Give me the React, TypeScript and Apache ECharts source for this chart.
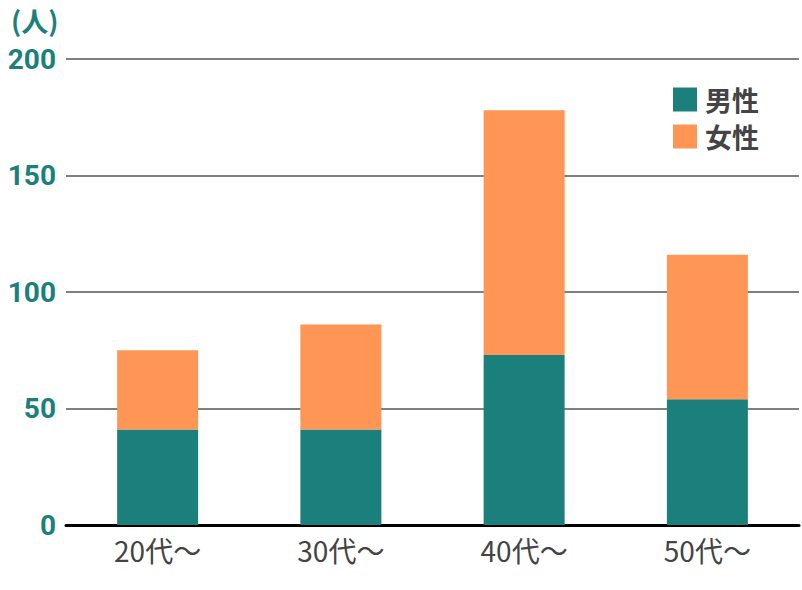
import React, { useEffect, useRef } from "react";
import * as echarts from "echarts";

const categories = ["20代～", "30代～", "40代～", "50代～"];
const maleValues = [41, 41, 73, 54];
const femaleValues = [34, 45, 105, 62];
const seriesNames = ["男性", "女性"];
const yTicks = [0, 50, 100, 150, 200];

export default function App() {
  const ref = useRef<HTMLDivElement>(null);
  useEffect(() => {
    if (!ref.current) return;
    const chart = echarts.init(ref.current, undefined, { renderer: "svg" });
    chart.setOption({
      animation: false,
      backgroundColor: "#ffffff",
      graphic: [
        {
          type: "text",
          left: 11,
          top: 7,
          style: {
            text: "(人)",
            fill: "#1b807c",
            font: "bold 27px 'Noto Sans CJK JP', sans-serif",
          },
        },
      ],
      legend: {
        orient: "vertical",
        left: 673,
        top: 86,
        padding: 0,
        itemWidth: 24,
        itemHeight: 24,
        itemGap: 10,
        icon: "rect",
        textStyle: {
          fontSize: 27,
          lineHeight: 26,
          fontWeight: "bold",
          color: "#444444",
          fontFamily: "'Noto Sans CJK JP', sans-serif",
          padding: [0, 0, 0, 3],
        },
        data: seriesNames,
      },
      grid: { left: 66, right: 3, top: 59, bottom: 65 },
      xAxis: {
        type: "category",
        data: categories,
        axisLine: { lineStyle: { color: "#000000", width: 3 } },
        axisTick: { show: false },
        axisLabel: {
          fontSize: 28,
          color: "#444444",
          margin: 11,
          fontFamily: "'Noto Sans CJK JP', sans-serif",
        },
      },
      yAxis: {
        type: "value",
        min: yTicks[0],
        max: yTicks[yTicks.length - 1],
        interval: 50,
        axisLine: { show: false },
        axisTick: { show: false },
        splitLine: { lineStyle: { color: "#555555", width: 1.5 } },
        axisLabel: {
          fontSize: 28,
          fontWeight: "bold",
          color: "#1b807c",
          margin: 10,
          fontFamily: "Roboto, sans-serif",
        },
      },
      series: [
        {
          name: seriesNames[0],
          type: "bar",
          stack: "total",
          barWidth: 81,
          data: maleValues,
          itemStyle: { color: "#1b807c" },
        },
        {
          name: seriesNames[1],
          type: "bar",
          stack: "total",
          barWidth: 81,
          data: femaleValues,
          itemStyle: { color: "#ff9655" },
        },
      ],
    });
    return () => chart.dispose();
  }, []);
  return <div ref={ref} style={{ width: 802, height: 590, position: "absolute", left: 0, top: 0 }} />;
}
